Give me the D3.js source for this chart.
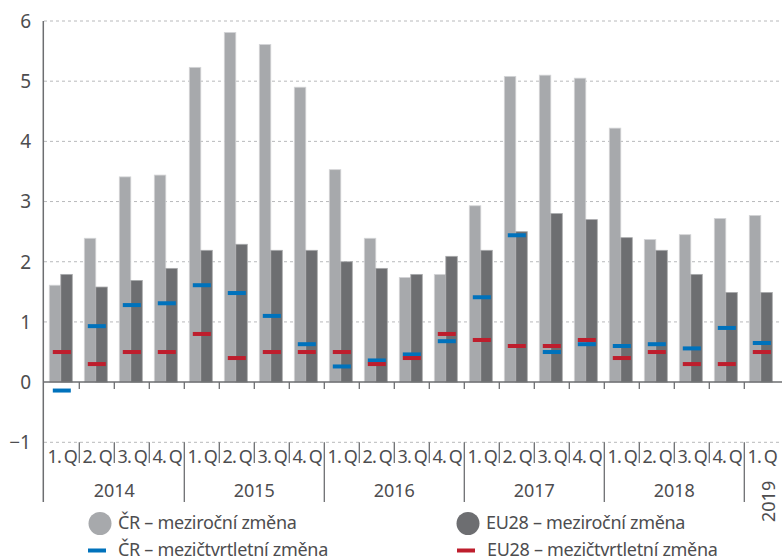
<!DOCTYPE html>
<html>
<head>
<meta charset="utf-8">
<script src="https://cdn.jsdelivr.net/npm/d3@7"></script>
<style>
  body { margin: 0; background: #fff; }
  svg text { font-family: "Noto Sans", sans-serif; fill: #4d4d4f; }
</style>
</head>
<body>
<svg id="chart" width="782" height="558"></svg>
<script>
// quarters 2014 Q1 .. 2019 Q1
var quarters = ["2014-1","2014-2","2014-3","2014-4","2015-1","2015-2","2015-3","2015-4",
                "2016-1","2016-2","2016-3","2016-4","2017-1","2017-2","2017-3","2017-4",
                "2018-1","2018-2","2018-3","2018-4","2019-1"];
var quarterLabels = ["1.\u2009Q","2.\u2009Q","3.\u2009Q","4.\u2009Q"];
var years = ["2014","2015","2016","2017","2018","2019"];

var crYoY = [1.61,2.39,3.41,3.44,5.23,5.81,5.61,4.90,3.53,2.39,1.74,1.79,2.93,5.08,5.10,5.05,4.22,2.37,2.45,2.72,2.77];
var euYoY = [1.79,1.58,1.69,1.89,2.19,2.29,2.19,2.19,2.0,1.89,1.79,2.09,2.19,2.5,2.8,2.7,2.4,2.19,1.79,1.49,1.49];
var crQoQ = [-0.14,0.93,1.28,1.31,1.61,1.48,1.10,0.63,0.26,0.36,0.46,0.68,1.41,2.44,0.50,0.63,0.60,0.63,0.56,0.90,0.65];
var euQoQ = [0.5,0.3,0.5,0.5,0.8,0.4,0.5,0.5,0.5,0.3,0.4,0.8,0.7,0.6,0.6,0.7,0.4,0.5,0.3,0.3,0.5];

var yTicks = [-1,0,1,2,3,4,5,6];

var colLight = "#a7a9ac", colDark = "#6d6e71", colBlue = "#0072bc", colRed = "#be1e2d";

var svg = d3.select("#chart");

var x = d3.scaleBand().domain(quarters).range([44.3, 779.3]);
var inner = d3.scaleBand().domain(["cr","eu"]).range([5, 28]);
var y = d3.scaleLinear().domain([-1, 6]).range([442.3, 21]);

// grid
svg.append("g")
  .selectAll("line")
  .data(yTicks.filter(function(d) { return d !== 0; }))
  .join("line")
  .attr("x1", 44).attr("x2", 782)
  .attr("y1", function(d) { return y(d); })
  .attr("y2", function(d) { return y(d); })
  .attr("stroke", "#b8b9bb")
  .attr("stroke-dasharray", "3,3");

// y tick labels
svg.append("g")
  .selectAll("text")
  .data(yTicks)
  .join("text")
  .attr("x", 31)
  .attr("y", function(d) { return y(d); })
  .attr("dy", "0.36em")
  .attr("text-anchor", "end")
  .style("font-size", "19px")
  .text(function(d) { return d < 0 ? "\u2212" + Math.abs(d) : d; });

// bars
var idx = d3.range(quarters.length);
svg.append("g")
  .selectAll("rect")
  .data(idx)
  .join("rect")
  .attr("x", function(i) { return x(quarters[i]) + inner("cr"); })
  .attr("width", inner.bandwidth())
  .attr("y", function(i) { return y(crYoY[i]); })
  .attr("height", function(i) { return y(0) - y(crYoY[i]); })
  .attr("fill", colLight)
  .attr("stroke", "#d4d5d7")
  .attr("stroke-width", 0.8);

svg.append("g")
  .selectAll("rect")
  .data(idx)
  .join("rect")
  .attr("x", function(i) { return x(quarters[i]) + inner("eu"); })
  .attr("width", inner.bandwidth())
  .attr("y", function(i) { return y(euYoY[i]); })
  .attr("height", function(i) { return y(0) - y(euYoY[i]); })
  .attr("fill", colDark)
  .attr("stroke", "#a9aaac")
  .attr("stroke-width", 0.8);

// quarter-on-quarter dashes
function dashes(vals, color) {
  svg.append("g")
    .selectAll("rect")
    .data(idx)
    .join("rect")
    .attr("x", function(i) { return x(quarters[i]) + x.bandwidth() / 2 - 9; })
    .attr("width", 18)
    .attr("y", function(i) { return y(vals[i]) - 2; })
    .attr("height", 4)
    .attr("fill", color);
}
dashes(crQoQ, colBlue);
dashes(euQoQ, colRed);

// zero line
svg.append("line")
  .attr("x1", 43).attr("x2", 782)
  .attr("y1", y(0)).attr("y2", y(0))
  .attr("stroke", "#6d6e71").attr("stroke-width", 1.5);

// y axis line
svg.append("line")
  .attr("x1", 43.3).attr("x2", 43.3)
  .attr("y1", y(6)).attr("y2", 502)
  .attr("stroke", "#6d6e71").attr("stroke-width", 1.5);

// boundaries between quarters
var bounds = idx.slice(1);
svg.append("g")
  .selectAll("line")
  .data(bounds)
  .join("line")
  .attr("x1", function(i) { return x(quarters[i]); })
  .attr("x2", function(i) { return x(quarters[i]); })
  .attr("y1", y(0)).attr("y2", y(0) + 7)
  .attr("stroke", "#6d6e71").attr("stroke-width", 1.3);

svg.append("g")
  .selectAll("line")
  .data(bounds)
  .join("line")
  .attr("x1", function(i) { return x(quarters[i]); })
  .attr("x2", function(i) { return x(quarters[i]); })
  .attr("y1", y(-1))
  .attr("y2", function(i) { return quarters[i].slice(5) === "1" ? 502 : 463; })
  .attr("stroke", "#6d6e71").attr("stroke-width", 1.3);

// quarter labels
svg.append("g")
  .selectAll("text")
  .data(idx)
  .join("text")
  .attr("x", function(i) { return x(quarters[i]) + x.bandwidth() / 2 + 0.5; })
  .attr("y", 463)
  .attr("text-anchor", "middle")
  .style("font-size", "18px")
  .style("letter-spacing", "-0.6px")
  .text(function(i) { return quarterLabels[+quarters[i].slice(5) - 1]; });

// year labels
years.forEach(function(yr) {
  var qs = quarters.filter(function(q) { return q.slice(0, 4) === yr; });
  var x0 = x(qs[0]), x1 = x(qs[qs.length - 1]) + x.bandwidth();
  var cx = (x0 + x1) / 2;
  if (qs.length > 1) {
    svg.append("text")
      .attr("x", cx).attr("y", 497)
      .attr("text-anchor", "middle")
      .style("font-size", "18px")
      .text(yr);
  } else {
    svg.append("text")
      .attr("transform", "translate(" + (cx + 13) + ",522) rotate(-90)")
      .attr("text-anchor", "start")
      .style("font-size", "18px")
      .text(yr);
  }
});

// legend
var legend = svg.append("g");
var legendItems = [
  { label: "ČR – meziroční změna", color: colLight, type: "circle", x: 100, y: 523.5 },
  { label: "EU28 – meziroční změna", color: colDark, type: "circle", x: 468, y: 523.5 },
  { label: "ČR – mezičtvrtletní změna", color: colBlue, type: "line", x: 97, y: 550.5 },
  { label: "EU28 – mezičtvrtletní změna", color: colRed, type: "line", x: 466, y: 550.5 }
];
legendItems.forEach(function(d) {
  if (d.type === "circle") {
    legend.append("circle").attr("cx", d.x).attr("cy", d.y).attr("r", 11.5).attr("fill", d.color);
  } else {
    legend.append("rect").attr("x", d.x - 9).attr("y", d.y - 2).attr("width", 18).attr("height", 4).attr("fill", d.color);
  }
  legend.append("text")
    .attr("x", d.x + (d.type === "circle" ? 18 : 21))
    .attr("y", d.y + 5)
    .style("font-size", "18px")
    .style("letter-spacing", "-0.3px")
    .text(d.label);
});
</script>
</body>
</html>
